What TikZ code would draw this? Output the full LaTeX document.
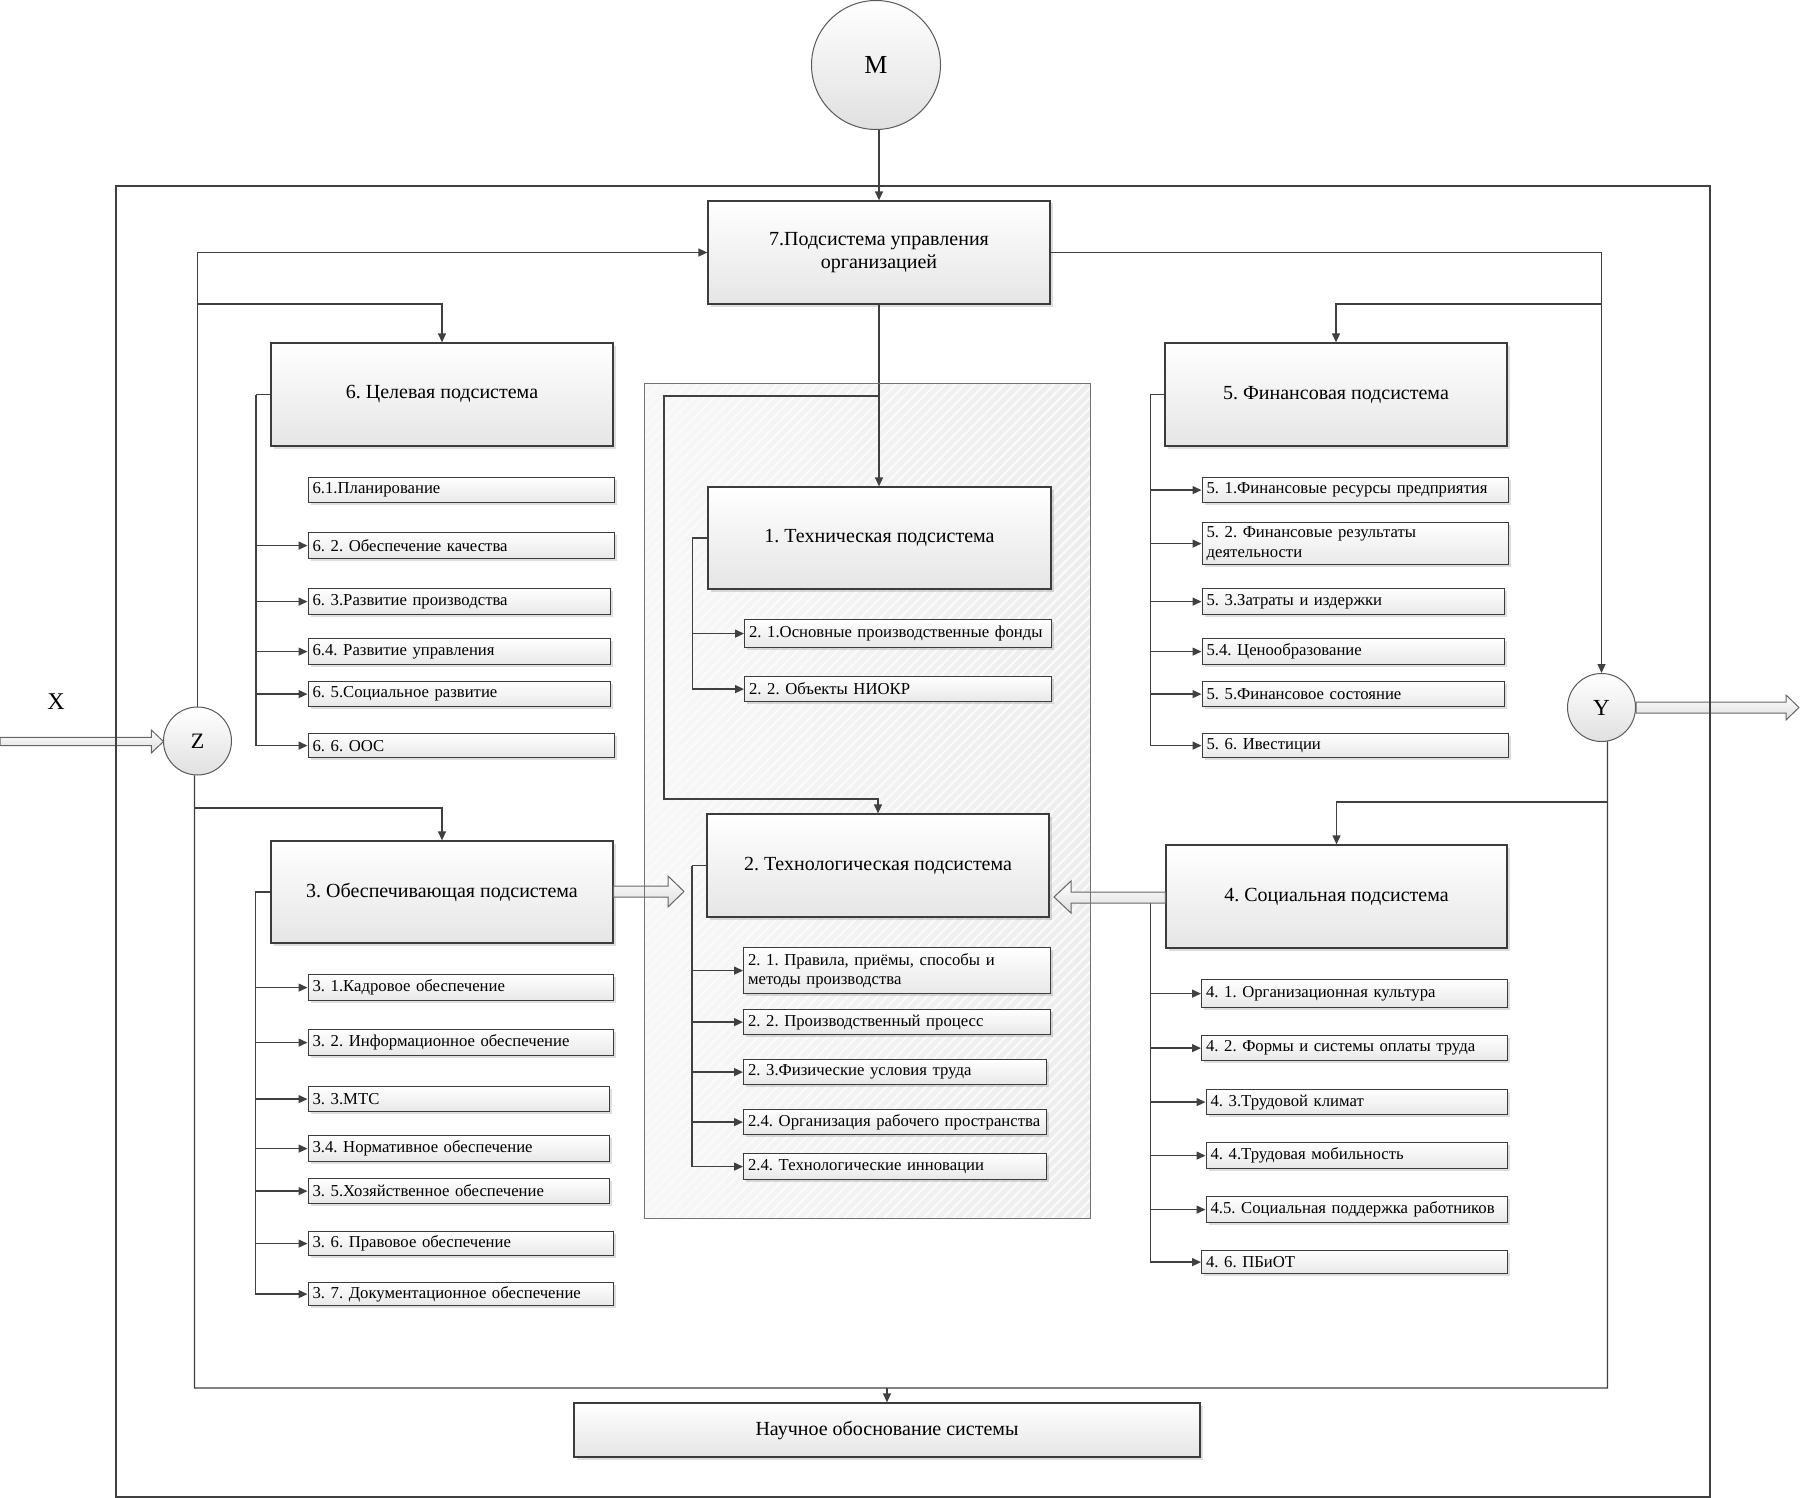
\documentclass[tikz,border=0pt]{standalone}
\usepackage{fontspec}
\setmainfont{Liberation Serif}
\usetikzlibrary{arrows.meta,shadows,patterns.meta,calc}
\definecolor{ln}{HTML}{404040}
\definecolor{bd}{HTML}{3C3C3C}
\frenchspacing
\tikzset{
  conn/.style={draw=ln, line width=1.3pt},
  arr/.style={conn, -{Triangle[length=9pt,width=8pt]}},
  shad/.style={drop shadow={shadow xshift=2.5pt,shadow yshift=-2.5pt,fill=black,opacity=0.13}},
  bigbox/.style={shape=rectangle, draw=bd, line width=1.25pt, top color=white, bottom color=black!10, shad,
    font=\fontsize{20}{23}\selectfont, align=center, inner sep=0pt},
  itembox/.style={shape=rectangle, draw=bd, line width=1.2pt, top color=white, bottom color=black!9, shad,
    font=\fontsize{16.7}{19.5}\selectfont, align=left, inner xsep=4.5pt, inner ysep=0pt, anchor=north west},
  circ/.style={circle, draw=black!65, line width=1pt, top color=white, bottom color=black!12, inner sep=0pt},
  hollow/.style={draw=black!60, line width=1pt, top color=white, bottom color=black!13},
  framestyle/.style={draw=ln, line width=1.3pt},
  panelborder/.style={draw=black!55, line width=1pt},
}
\newcommand\myitem[6]{%
  \pgfmathsetmacro\myTW{#4-9}%
  \node[itembox, minimum width=#4pt, minimum height=#5pt, text width=\myTW pt] (#1) at (#2,#3) {\mbox{#6}};}
\newcommand\myitemii[7]{%
  \pgfmathsetmacro\myTW{#4-9}%
  \node[itembox, minimum width=#4pt, minimum height=#5pt, text width=\myTW pt] (#1) at (#2,#3) {\mbox{#6}\\\mbox{#7}};}
\begin{document}
\begin{tikzpicture}[x=1pt,y=-1pt]
\useasboundingbox (0,0) rectangle (1801,1498);
% gray panel
\path[left color=black!3, right color=black!7, postaction={pattern={Lines[angle=45,distance=7pt,line width=2pt]}, pattern color=black!1.5}] (644,383) rectangle (1090,1218);

% circles and label
\node[circ, minimum size=129pt, font=\fontsize{26}{26}\selectfont] (M) at (876,65) {M};
\node[circ, minimum size=68pt, font=\fontsize{22}{22}\selectfont] (Z) at (197.5,741) {Z};
\node[circ, minimum size=68pt, font=\fontsize{23}{23}\selectfont] (Y) at (1601.5,707.5) {Y};
\node[font=\fontsize{24}{24}\selectfont, inner sep=0pt] (X) at (56,702) {X};

% main boxes
\node[bigbox, minimum width=342pt, minimum height=103pt] (b7) at (879,252.5) {7.Подсистема управления\\организацией};
\node[bigbox, minimum width=342pt, minimum height=103pt] (b6) at (442,394.5) {6. Целевая подсистема};
\node[bigbox, minimum width=342pt, minimum height=103pt] (b5) at (1336,394.5) {5. Финансовая подсистема};
\node[bigbox, minimum width=343pt, minimum height=102pt] (b1) at (879.5,538) {1. Техническая подсистема};
\node[bigbox, minimum width=342pt, minimum height=103pt] (b2) at (878,865.5) {2. Технологическая подсистема};
\node[bigbox, minimum width=342pt, minimum height=102pt] (b3) at (442,892) {3. Обеспечивающая подсистема};
\node[bigbox, minimum width=341pt, minimum height=103pt] (b4) at (1336.5,896.5) {4. Социальная подсистема};
\node[bigbox, minimum width=626pt, minimum height=54pt] (bN) at (887,1430) {Научное обоснование системы};

% items of 6
\myitem{i61}{307.5}{477}{306}{25}{6.1.Планирование}
\myitem{i62}{307.5}{532}{306}{26}{6. 2. Обеспечение качества}
\myitem{i63}{307.5}{588}{302}{26}{6. 3.Развитие производства}
\myitem{i64}{307.5}{638}{302}{26}{6.4. Развитие управления}
\myitem{i65}{307.5}{681}{302}{25}{6. 5.Социальное развитие}
\myitem{i66}{307.5}{733}{306}{24}{6. 6. ООС}
% items of 5
\myitem{i51}{1201.5}{477}{306}{25}{5. 1.Финансовые ресурсы предприятия}
\myitemii{i52}{1201.5}{522}{306}{42}{5. 2. Финансовые результаты}{деятельности}
\myitem{i53}{1201.5}{588}{302}{26}{5. 3.Затраты и издержки}
\myitem{i54}{1201.5}{638}{302}{26}{5.4. Ценообразование}
\myitem{i55}{1201.5}{681}{302}{25}{5. 5.Финансовое состояние}
\myitem{i56}{1201.5}{733}{306}{24}{5. 6. Ивестиции}
% items of 1
\myitem{t1}{744}{619}{307}{28}{2. 1.Основные производственные фонды}
\myitem{t2}{744}{676}{307}{25}{2. 2. Объекты НИОКР}
% items of 2
\myitemii{g1}{743}{947}{307}{46}{2. 1. Правила, приёмы, способы и}{методы производства}
\myitem{g2}{743}{1009}{307}{25}{2. 2. Производственный процесс}
\myitem{g3}{743}{1059}{303}{25}{2. 3.Физические условия труда}
\myitem{g4}{743}{1109}{303}{25}{2.4. Организация рабочего пространства}
\myitem{g5}{743}{1153}{303}{26}{2.4. Технологические инновации}
% items of 3
\myitem{i31}{307.5}{974}{305.5}{26}{3. 1.Кадровое обеспечение}
\myitem{i32}{307.5}{1029}{305.5}{26}{3. 2. Информационное обеспечение}
\myitem{i33}{307.5}{1086}{301.5}{25}{3. 3.МТС}
\myitem{i34}{307.5}{1135}{301.5}{26}{3.4. Нормативное обеспечение}
\myitem{i35}{307.5}{1178}{301.5}{25}{3. 5.Хозяйственное обеспечение}
\myitem{i36}{307.5}{1231}{305.5}{24}{3. 6. Правовое обеспечение}
\myitem{i37}{307.5}{1282}{305.5}{23}{3. 7. Документационное обеспечение}
% items of 4
\myitem{i41}{1201}{979}{306}{28}{4. 1. Организационная культура}
\myitem{i42}{1201}{1035}{306}{25}{4. 2. Формы и системы оплаты труда}
\myitem{i43}{1205.5}{1089}{301.5}{25}{4. 3.Трудовой климат}
\myitem{i44}{1205.5}{1142}{301.5}{26}{4. 4.Трудовая мобильность}
\myitem{i45}{1205.5}{1196}{301.5}{26}{4.5. Социальная поддержка работников}
\myitem{i46}{1201}{1250}{306}{23}{4. 6. ПБиОТ}

% junction coordinates
\coordinate (j6) at (197.5,304);
\coordinate (j5) at (1601.5,304);
\coordinate (j3) at (194.54,808);
\coordinate (j4) at (1607.4,802);
\coordinate (botR) at (1607.4,1388);
\coordinate (lpA) at (879,396);
\coordinate (lpB) at (664,396);
\coordinate (lpC) at (664,799);

% top connectors
\draw[arr] (M.south -| b7.north) -- (b7.north);
\draw[arr] (Z.north) |- (b7.west);
\draw[arr] (j6) -| (b6.north);
\draw[arr] (b7.east) -| (Y.north);
\draw[arr] (j5) -| (b5.north);
\draw[arr] (b7.south) -- (b7.south |- b1.north);
\draw[arr] (lpA) -- (lpB) -- (lpC) -| (b2.north);
% bottom connectors
\draw[conn] (Z.-95) |- (botR) -- (Y.-80);
\draw[arr] (bN.north |- botR) -- (bN.north);
\draw[arr] (j3) -| (b3.north);
\draw[arr] (j4) -| (b4.north);

% buses
\draw[conn] (b6.west) -- ++(-14.5,0) coordinate (bus6);
\draw[arr] (bus6) |- (i66.west);
\foreach \n in {i62,i63,i64,i65} {\draw[arr] (bus6 |- \n.west) -- (\n.west);}
\draw[conn] (b5.west) -- ++(-14,0) coordinate (bus5);
\draw[arr] (bus5) |- (i56.west);
\foreach \n in {i51,i52,i53,i54,i55} {\draw[arr] (bus5 |- \n.west) -- (\n.west);}
\draw[conn] (b1.west) -- ++(-15,0) coordinate (bus1);
\draw[arr] (bus1) |- (t2.west);
\draw[arr] (bus1 |- t1.west) -- (t1.west);
\draw[conn] (b2.west) -- ++(-14.5,0) coordinate (bus2);
\draw[arr] (bus2) |- (g5.west);
\foreach \n in {g1,g2,g3,g4} {\draw[arr] (bus2 |- \n.west) -- (\n.west);}
\draw[conn] (b3.west) -- ++(-15,0) coordinate (bus3);
\draw[arr] (bus3) |- (i37.west);
\foreach \n in {i31,i32,i33,i34,i35,i36} {\draw[arr] (bus3 |- \n.west) -- (\n.west);}
\draw[conn] (b4.west) -- ++(-15,0) coordinate (bus4);
\draw[arr] (bus4) |- (i46.west);
\foreach \n in {i41,i42,i43,i44,i45} {\draw[arr] (bus4 |- \n.west) -- (\n.west);}

% hollow arrows
\draw[hollow] (0,737.3) -- (151.3,737.3) -- (151.3,730) -- (163.5,741.5) -- (151.3,753) -- (151.3,745.7) -- (0,745.7) -- cycle;
\draw[hollow] (613.7,886) -- (668,886) -- (668,876) -- (684,891.5) -- (668,907) -- (668,897) -- (613.7,897) -- cycle;
\draw[hollow] (1165.3,892) -- (1071,892) -- (1071,881) -- (1054,897) -- (1071,913) -- (1071,903) -- (1165.3,903) -- cycle;
\draw[hollow] (1636,702) -- (1786,702) -- (1786,695) -- (1799,707.5) -- (1786,720) -- (1786,713) -- (1636,713) -- cycle;

% panel border and outer frame
\draw[panelborder] (644,383) rectangle (1090,1218);
\draw[framestyle] (116,186) rectangle (1710,1497);
\end{tikzpicture}
\end{document}
